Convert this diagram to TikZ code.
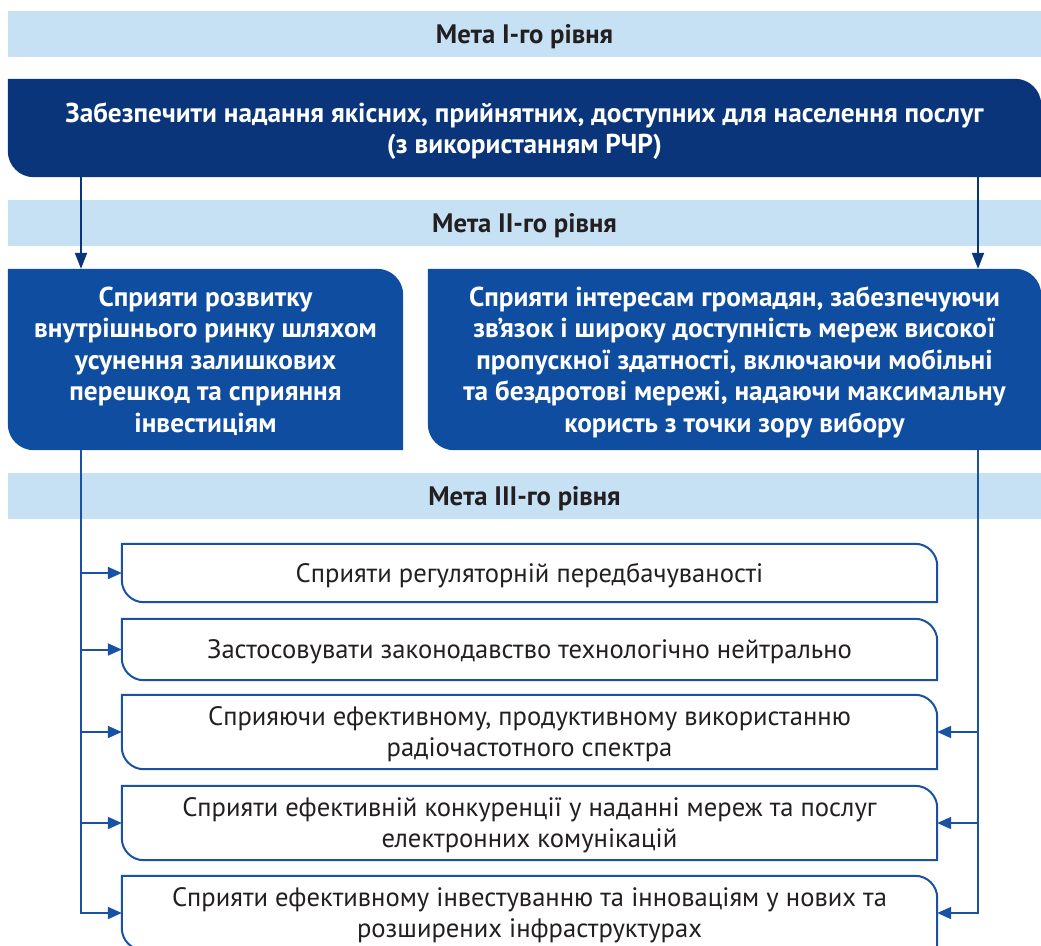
\documentclass[tikz,border=0pt]{standalone}
\usepackage{fontspec}
\setmainfont{PT Sans}
\usetikzlibrary{arrows.meta,calc,backgrounds}

\definecolor{bandblue}{HTML}{C5E1F3}
\definecolor{navy}{HTML}{0B357B}
\definecolor{goalblue}{HTML}{0F4DA1}
\definecolor{linkblue}{HTML}{1A52A3}
\definecolor{inkgray}{HTML}{231F20}

\tikzset{
  band/.style={fill=bandblue, text=inkgray, minimum width=1033, minimum height=46, inner sep=0, text depth=0pt, font=\bfseries\fontsize{26.7}{30}\selectfont},
  goal/.style={text=white, inner sep=0, align=center, text depth=0pt, font=\bfseries\fontsize{27.3}{31.5}\selectfont},
  task/.style={text=inkgray, inner sep=0, minimum width=815, align=center, text depth=0pt, font=\fontsize{26.6}{31}\selectfont},
  flow/.style={draw=navy, line width=2, -{Triangle[length=16pt,width=12pt]}},
  link/.style={draw=linkblue, line width=2, -{Triangle[length=14pt,width=12pt]}},
  taskline/.style={fill=white, draw=linkblue, line width=2}
}

% leaf shape: rounded top right and bottom left corners
\newcommand{\leafshape}[3]{%
  \path[#2] (#1.north west) -- ($(#1.north east)+(-#3,0)$) .. controls +(0.55*#3,0) and +(0,-0.55*#3) .. ($(#1.north east)+(0,#3)$) -- (#1.south east) -- ($(#1.south west)+(#3,0)$) .. controls +(-0.55*#3,0) and +(0,0.55*#3) .. ($(#1.south west)+(0,-#3)$) -- cycle;}

\begin{document}
\begin{tikzpicture}[x=1pt,y=1pt,yscale=-1]
	\useasboundingbox (0,0) rectangle (1041,945);
	
	% Text Node
	\node[band] (lvl1) at (524.5,34) {Мета I-го рівня};
	% Text Node
	\node[goal, minimum width=1033, minimum height=98] (goal1) at (524.5,128) {Забезпечити надання якісних, прийнятних, доступних для населення послуг\\(з використанням РЧР)};
	% Text Node
	\node[band] (lvl2) at (524.5,223) {Мета II-го рівня};
	% Text Node
	\node[goal, minimum width=395, minimum height=181] (goal2a) at (205.5,359.5) {Сприяти розвитку\\внутрішнього ринку шляхом\\усунення залишкових\\перешкод та сприяння\\інвестиціям};
	% Text Node
	\node[goal, minimum width=613, minimum height=181] (goal2b) at (734.5,359.5) {Сприяти інтересам громадян, забезпечуючи\\зв'язок і широку доступність мереж високої\\пропускної здатності, включаючи мобільні\\та бездротові мережі, надаючи максимальну\\користь з точки зору вибору};
	% Text Node
	\node[band] (lvl3) at (524.5,496) {Мета III-го рівня};
	
	% Text Node
	\node[task, minimum height=58] (task1) at (529.5,573) {Сприяти регуляторній передбачуваності};
	% Text Node
	\node[task, minimum height=61] (task2) at (529.5,649.5) {Застосовувати законодавство технологічно нейтрально};
	% Text Node
	\node[task, minimum height=74] (task3) at (529.5,732) {Сприяючи ефективному, продуктивному використанню\\радіочастотного спектра};
	% Text Node
	\node[task, minimum height=74] (task4) at (529.5,823) {Сприяти ефективній конкуренції у наданні мереж та послуг\\електронних комунікацій};
	% Text Node
	\node[task, minimum height=74] (task5) at (529.5,913) {Сприяти ефективному інвестуванню та інноваціям у нових та\\розширених інфраструктурах};
	
	%Shapes behind the texts
	\begin{scope}[on background layer]
		\leafshape{goal1}{fill=navy}{26}
		\leafshape{goal2a}{fill=goalblue}{26}
		\leafshape{goal2b}{fill=goalblue}{26}
		\foreach \i in {1,...,5}{
			\leafshape{task\i}{taskline}{22}
		}
	\end{scope}
	
	\coordinate (lx) at (81,0);
	\coordinate (rx) at (978,0);
	
	%Straight Lines
	\draw[flow] (goal1.south -| lx) -- (goal2a.north -| lx);
	\draw[flow] (goal1.south -| rx) -- (goal2b.north -| rx);
	%Straight Lines
	\draw[link] (goal2a.south -| lx) |- (task5.west);
	\draw[link] (goal2b.south -| rx) |- (task5.east);
	\foreach \i in {1,...,4}
		\draw[link] (task\i.west -| lx) -- (task\i.west);
	\foreach \i in {3,4}
		\draw[link] (task\i.east -| rx) -- (task\i.east);
	
\end{tikzpicture}
\end{document}
